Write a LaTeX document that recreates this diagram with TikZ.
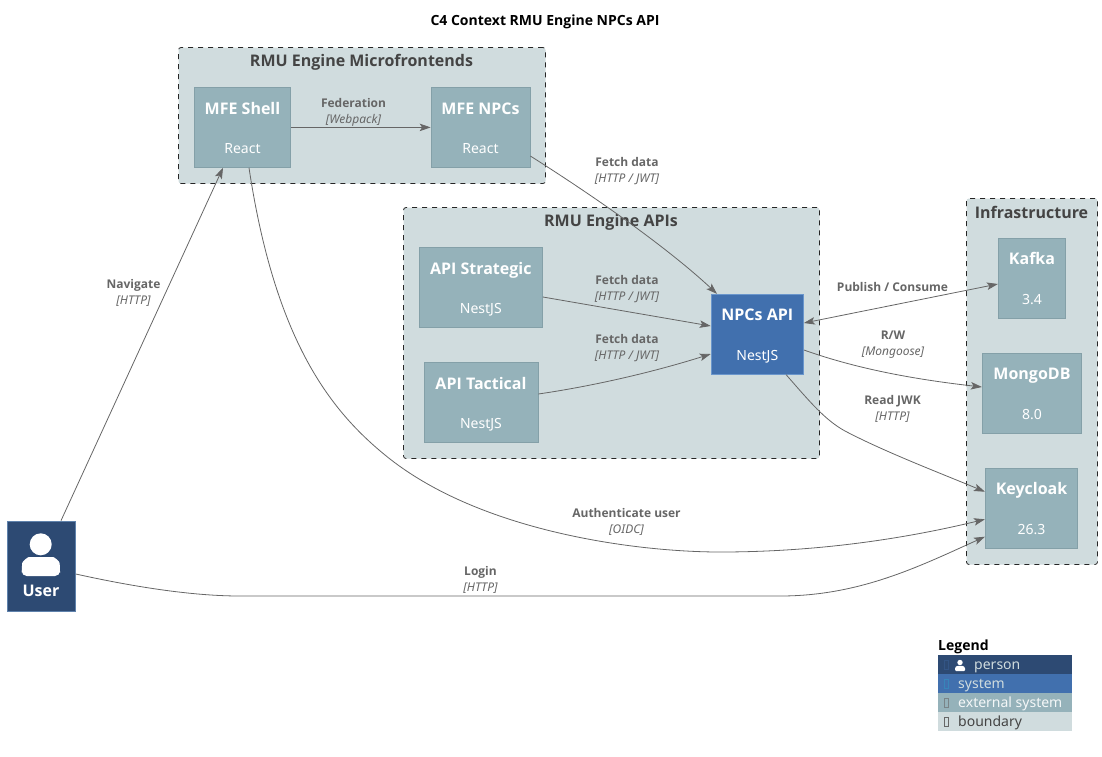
\documentclass[tikz,border=0pt]{standalone}
\usepackage{fontspec}
\setmainfont{Noto Sans}[BoldFont={Open Sans/B}]
\usetikzlibrary{positioning,arrows.meta}
\definecolor{personcol}{HTML}{2D4A73}
\definecolor{personline}{HTML}{5F82AC}
\definecolor{systemcol}{HTML}{4170AE}
\definecolor{systemline}{HTML}{6A96CC}
\definecolor{extcol}{HTML}{95B2BA}
\definecolor{extline}{HTML}{84A0A8}
\definecolor{boundcol}{HTML}{D0DCDE}
\definecolor{linecol}{HTML}{666666}
\definecolor{boundtext}{HTML}{444444}
\newcommand{\boxtext}[2]{{\fontsize{16}{20}\selectfont\bfseries\rule[-4pt]{0pt}{20pt}#1}\\[24pt]{\fontsize{14}{18}\selectfont\rule[-3.5pt]{0pt}{11pt}#2}}
\newcommand{\reltext}[2]{{\bfseries #1}\\{\itshape #2}}
\tikzset{
boundbox/.style={draw=black!85, fill=boundcol, dash pattern=on 5pt off 5pt, line width=.8pt, rounded corners=2.5pt},
boundtitle/.style={text=boundtext, font=\fontsize{16}{20}\selectfont\bfseries, inner sep=0pt},
extbox/.style={fill=extcol, draw=extline, text=white, align=center, inner sep=0pt, line width=.7pt, minimum height=80pt},
sysbox/.style={fill=systemcol, draw=systemline, text=white, align=center, inner sep=0pt, line width=.7pt, minimum height=80pt},
relline/.style={draw=linecol, line width=.8pt, -{Stealth[length=11pt,width=7.5pt,inset=2.5pt]}},
rellabel/.style={text=linecol, align=center, inner sep=0pt, font=\fontsize{12}{16}\selectfont},
legendrow/.style={minimum width=134pt, minimum height=19pt, inner sep=0pt, text depth=0pt, font=\fontsize{14}{16}\selectfont},
tofubox/.style={draw=#1, line width=.5pt, inner sep=0pt, minimum width=4pt, minimum height=9pt}
}
\begin{document}
\begin{tikzpicture}[x=1pt, y=-1pt]
\useasboundingbox (0,0) rectangle (1102,756);

\node[font=\fontsize{14}{18}\selectfont\bfseries, inner sep=0pt] (title) at (545,21.5) {C4 Context RMU Engine NPCs API};

% boundaries
\node[boundbox, minimum width=367pt, minimum height=136pt] (mfe) at (362,115.5) {};
\node[boundbox, minimum width=416pt, minimum height=251pt] (apis) at (611.5,333) {};
\node[boundbox, minimum width=131pt, minimum height=366pt] (infra) at (1032,381.5) {};
\node[boundtitle] (mfetitle) at (361.5,62) {RMU Engine Microfrontends};
\node[boundtitle] (apistitle) at (611,222) {RMU Engine APIs};
\node[boundtitle] (infratitle) at (1031.5,212.5) {Infrastructure};

% containers
\node[extbox, minimum width=96.5pt] (shell) at (242.5,127.4) {\boxtext{MFE Shell}{React}};
\node[extbox, minimum width=99pt] (npcs) at (480.5,127.4) {\boxtext{MFE NPCs}{React}};
\node[extbox, minimum width=123.5pt] (strategic) at (480.8,287.4) {\boxtext{API Strategic}{NestJS}};
\node[extbox, minimum width=114pt] (tactical) at (481,402.4) {\boxtext{API Tactical}{NestJS}};
\node[sysbox, minimum width=92.5pt] (api) at (757.3,334.2) {\boxtext{NPCs API}{NestJS}};
\node[extbox, minimum width=67.5pt] (kafka) at (1032,278.3) {\boxtext{Kafka}{3.4}};
\node[extbox, minimum width=99.5pt] (mongo) at (1032,393.3) {\boxtext{MongoDB}{8.0}};
\node[extbox, minimum width=92.5pt] (keycloak) at (1031.5,508.3) {\boxtext{Keycloak}{26.3}};

% person
\node[fill=personcol, draw=personline, line width=.7pt, minimum width=68.5pt, minimum height=90pt, inner sep=0pt] (user) at (41.2,566) {};
\fill[white] (40.7,544.3) circle (11pt);
\fill[white, rounded corners=5pt] (21.7,576) -- (21.7,568) .. controls (22.5,561) and (28,557) .. (34,557) -- (48,557) .. controls (54,557) and (59.5,561) .. (60,568) -- (60,576) -- cycle;
\node[text=white, font=\fontsize{16}{20}\selectfont\bfseries, inner sep=0pt] (username) at (41,591) {User};

% connectors
\draw[relline] ([xshift=19.8pt]user.north) -- ([xshift=-19.5pt]shell.south);
\draw[relline] ([xshift=6.5pt]shell.south) .. controls (275,340) and (330,410) .. (385,455)
  .. controls (480,533) and (640,552) .. (720,552) .. controls (830,552) and (920,535) .. ([yshift=-11pt]keycloak.west);
\draw[relline] (shell.east) -- (npcs.west);
\draw[relline] ([yshift=-28.6pt]npcs.east) .. controls (600,200) and (670,250) .. ([xshift=-40.3pt]api.north);
\draw[relline] ([yshift=-9.6pt]strategic.east) -- ([yshift=8.2pt]api.west);
\draw[relline] ([yshift=8.4pt]tactical.east) .. controls (600,385) and (660,370) .. ([yshift=-19.8pt]api.west);
\draw[relline, {Stealth[length=11pt,width=7.5pt,inset=2.5pt]}-{Stealth[length=11pt,width=7.5pt,inset=2.5pt]}] ([yshift=11.2pt]api.east) -- ([yshift=-5.7pt]kafka.west);
\draw[relline] ([yshift=-15.8pt]api.east) .. controls (860,370) and (920,380) .. ([yshift=6.3pt]mongo.west);
\draw[relline] ([xshift=28.7pt]api.south) .. controls (810,402) and (825,420) .. (845,431) .. controls (885,452) and (940,473) .. ([yshift=16.6pt]keycloak.west);
\draw[relline] ([yshift=-8pt]user.east) .. controls (130,586) and (190,596) .. (240,596) -- (780,596) .. controls (860,596) and (920,566) .. ([yshift=-28.4pt]keycloak.west);

% connector labels
\node[rellabel] (lnav) at (133.5,293) {\reltext{Navigate}{[HTTP]}};
\node[rellabel] (lfed) at (353.5,112.5) {\reltext{Federation}{[Webpack]}};
\node[rellabel] (lfetch) at (627,171) {\reltext{Fetch data}{[HTTP / JWT]}};
\node[rellabel] (lstrat) at (627,289) {\reltext{Fetch data}{[HTTP / JWT]}};
\node[rellabel] (ltact) at (627,348) {\reltext{Fetch data}{[HTTP / JWT]}};
\node[rellabel] (lpub) at (892.5,286.5) {\bfseries Publish / Consume};
\node[rellabel] (lrw) at (893,345) {\reltext{R/W}{[Mongoose]}};
\node[rellabel] (ljwk) at (892.5,409) {\reltext{Read JWK}{[HTTP]}};
\node[rellabel] (lauth) at (626.5,522) {\reltext{Authenticate user}{[OIDC]}};
\node[rellabel] (llogin) at (480.5,580) {\reltext{Login}{[HTTP]}};

% legend
\node[font=\fontsize{14}{18}\selectfont\bfseries, inner sep=0pt, anchor=west] (legend) at (938,646.5) {Legend};
\node[legendrow, fill=personcol] (rowperson) at (1005,664.5) {};
\node[legendrow, fill=systemcol] (rowsystem) at (1005,683.5) {};
\node[legendrow, fill=extcol] (rowext) at (1005,702.5) {};
\node[legendrow, fill=boundcol] (rowbound) at (1005,721.5) {};
\node[tofubox=personcol!70!systemcol] (tofuperson) at (946,665) {};
\node[tofubox=systemcol!85!cyan] (tofusystem) at (946,684) {};
\node[tofubox=linecol!60!extcol] (tofuext) at (946,703) {};
\node[tofubox=linecol] (tofubound) at (946,722) {};
\fill[white] (960,662.5) circle (2.7pt);
\fill[white, rounded corners=1pt] (955,671) -- (955,667.5) -- (957,665.8) -- (963,665.8) -- (965,667.5) -- (965,671) -- cycle;
\node[text=boundcol, font=\fontsize{14}{16}\selectfont, inner sep=0pt, anchor=base west] (tperson) at (974,669) {person};
\node[text=boundcol, font=\fontsize{14}{16}\selectfont, inner sep=0pt, anchor=base west] (tsystem) at (958,688) {system};
\node[text=white!90!extcol, font=\fontsize{14}{16}\selectfont, inner sep=0pt, anchor=base west] (text) at (958,707) {external system};
\node[text=boundtext, font=\fontsize{14}{16}\selectfont, inner sep=0pt, anchor=base west] (tbound) at (958,726) {boundary};
\end{tikzpicture}
\end{document}
